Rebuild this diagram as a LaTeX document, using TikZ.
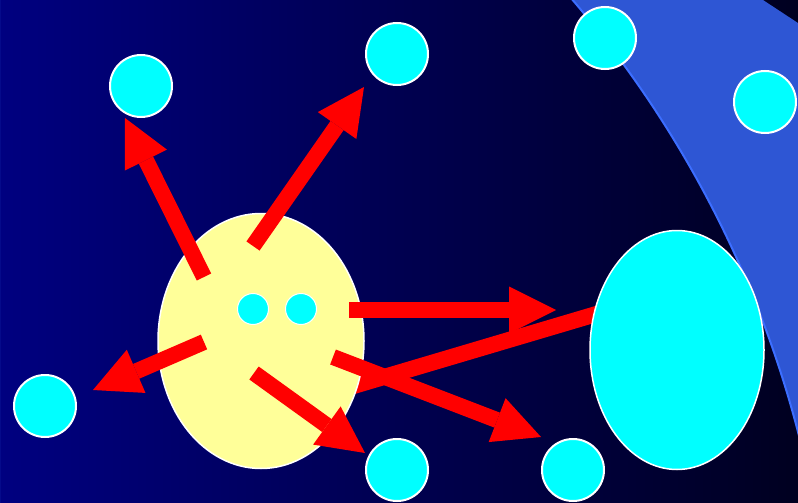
\documentclass[tikz,border=0pt]{standalone}
\usetikzlibrary{shapes.geometric, arrows.meta, calc}

\definecolor{navybg}{RGB}{0,0,128}
\definecolor{darkbg}{RGB}{0,0,32}
\definecolor{bandblue}{RGB}{46,86,212}
\definecolor{bandedge}{RGB}{60,110,255}
\definecolor{facefill}{RGB}{255,255,153}
\definecolor{aqua}{RGB}{0,255,255}

\begin{document}
\begin{tikzpicture}[
        x=1pt, y=-1pt,
        dot/.style={circle, draw=white, line width=2pt, fill=aqua, minimum size=62pt, inner sep=0pt},
        eye/.style={circle, draw=white, line width=1pt, fill=aqua, minimum size=31pt, inner sep=0pt},
        blob/.style={ellipse, draw=white, line width=1.5pt, inner sep=0pt},
        push/.style={draw=red, line width=16pt, -{Triangle[length=47pt, width=47pt, line width=0pt]}},
        link/.style={draw=red, line width=16pt}
    ]
        % background and band
        \shade[left color=navybg, right color=darkbg] (0,0) rectangle (798,503);
        \useasboundingbox (0,0) rectangle (798,503);
        \begin{scope}
            \clip (763,0) -- (798,23) -- (798,503) -- (0,503) -- (0,0) -- cycle;
            \fill[bandblue, even odd rule] (0,0) rectangle (798,503) (-257,707) circle [radius=1090];
            \draw[bandedge, line width=2pt] (-257,707) circle [radius=1090];
        \end{scope}

        % link behind the two bodies
        \coordinate (lk1) at (330,393);
        \coordinate (lk2) at (620,307);
        \draw[link] (lk1) -- (lk2);

        \node[blob, fill=facefill, minimum width=206pt, minimum height=255pt] (face) at (261,341) {};
        \node[blob, fill=aqua, minimum width=174pt, minimum height=239pt] (cell) at (677,350) {};
        \node[eye] (eyeL) at (253,309) {};
        \node[eye] (eyeR) at (301,309) {};

        \node[dot] (c1) at (141,86) {};
        \node[dot] (c2) at (397,54) {};
        \node[dot] (c3) at (605,38) {};
        \node[dot] (c4) at (765,102) {};
        \node[dot] (c5) at (45,406) {};
        \node[dot] (c6) at (397,470) {};
        \node[dot] (c7) at (573,470) {};

        % tails inside the face, tips near the targets
        \coordinate (t1) at (204,277);
        \coordinate (t2) at (253,246);
        \coordinate (t3) at (349,310);
        \coordinate (t4) at (204,342);
        \coordinate (t5) at (254,373);
        \coordinate (t6) at (333,357);
        \coordinate (p1) at (125,118);
        \coordinate (p2) at (364,87);
        \coordinate (p3) at (556,310);
        \coordinate (p4) at (93,390);
        \coordinate (p5) at (365,453);
        \coordinate (p6) at (541,437);

        \draw[push] (t1) -- (p1);
        \draw[push] (t2) -- (p2);
        \draw[push] (t3) -- (p3);
        \draw[push] (t4) -- (p4);
        \draw[push] (t5) -- (p5);
        \draw[push] (t6) -- (p6);
    \end{tikzpicture}
\end{document}
